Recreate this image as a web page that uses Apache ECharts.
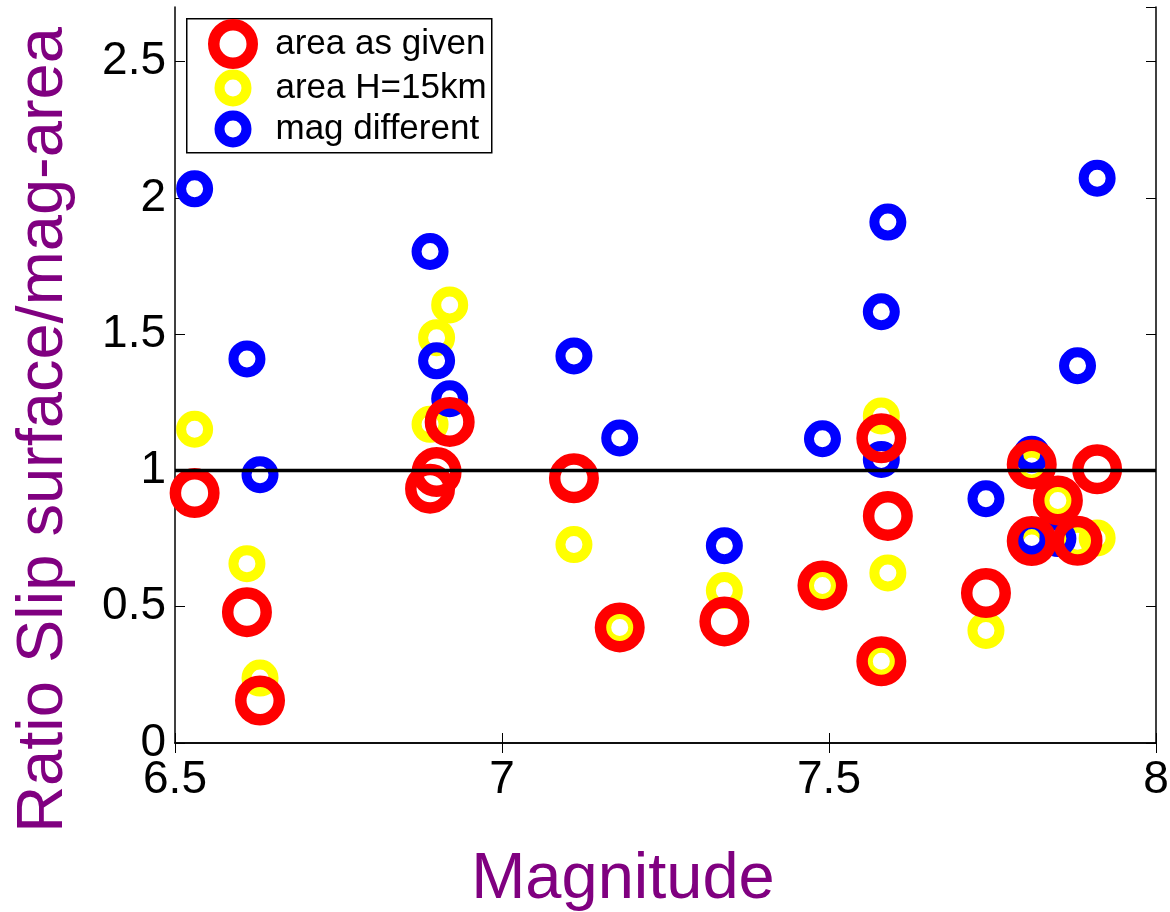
<!DOCTYPE html>
<html>
<head>
<meta charset="utf-8">
<script src="https://cdn.jsdelivr.net/npm/echarts@6/dist/echarts.min.js"></script>
<style>
  html, body { margin: 0; padding: 0; background: #fff; }
  #chart { width: 1170px; height: 912px; }
</style>
</head>
<body>
<div id="chart"></div>
<script>
// Earthquake magnitude of each event
const magnitude = [6.53, 6.61, 6.63, 6.89, 6.90, 6.92, 7.11, 7.18, 7.34, 7.49,
                   7.58, 7.59, 7.58, 7.74, 7.81, 7.91, 7.85, 7.81, 7.88];
// Ratio of surface slip to magnitude-area prediction, three variants
const ratioAreaGiven = [0.917, 0.480, 0.156, 0.933, 0.994, 1.178, 0.971, 0.424, 0.446, 0.578,
                        1.118, 0.833, 0.300, 0.550, 1.022, 1.004, 0.890, 0.741, 0.742];
const ratioAreaH15 = [1.151, 0.658, 0.238, 1.169, 1.487, 1.607, 0.728, 0.424, 0.559, 0.578,
                      1.200, 0.624, 0.300, 0.413, 1.016, 0.752, 0.890, 0.734, 0.740];
const ratioMagDiff = [2.033, 1.409, 0.984, 1.803, 1.402, 1.263, 1.420, 1.119, 0.724, 1.116,
                      1.582, 1.911, 1.040, 0.896, 1.059, 2.072, 0.750, 0.754, 1.384];
const referenceRatio = 1;
const xRange = [6.5, 8];
const yRange = [0, 2.7];

const FONT = '"Liberation Sans", Arial, Helvetica, sans-serif';
const pair = ys => magnitude.map((m, i) => [m, ys[i]]);

const ring = (color, width) => ({ color: 'rgba(0,0,0,0)', borderColor: color, borderWidth: width, opacity: 1 });
const RED = ring('#ff0000', 11.5);
const YELLOW = ring('#ffff00', 10);
const BLUE = ring('#0000ff', 10);

const tickStyle = { show: true, inside: true, length: 10, lineStyle: { color: '#000', width: 1 } };
const lineStyle = { show: true, lineStyle: { color: '#000', width: 1.5 } };

const chart = echarts.init(document.getElementById('chart'), null, { renderer: 'canvas' });
chart.setOption({
  animation: false,
  backgroundColor: '#fff',
  textStyle: { fontFamily: FONT },
  grid: { left: 175, right: 14, top: 7, bottom: 169, containLabel: false, outerBoundsMode: 'none' },
  xAxis: [{
    type: 'value', position: 'bottom', min: xRange[0], max: xRange[1], interval: 0.5,
    axisLine: lineStyle, axisTick: tickStyle, splitLine: { show: false },
    axisLabel: { color: '#000', fontSize: 46, margin: 14, fontFamily: FONT },
    name: 'Magnitude', nameLocation: 'middle', nameGap: 105,
    nameTextStyle: { color: '#800080', fontSize: 65, fontFamily: FONT, padding: [0, 85, 0, 0] }
  }, {
    type: 'value', position: 'top', min: xRange[0], max: xRange[1], interval: 0.5,
    axisLine: lineStyle, axisTick: tickStyle, splitLine: { show: false },
    axisLabel: { show: false }
  }],
  yAxis: [{
    type: 'value', position: 'left', min: yRange[0], max: yRange[1], interval: 0.5,
    axisLine: lineStyle, axisTick: tickStyle, splitLine: { show: false },
    axisLabel: { color: '#000', fontSize: 46, margin: 9, showMaxLabel: false, fontFamily: FONT },
    name: 'Ratio Slip surface/mag-area', nameLocation: 'middle', nameGap: 98,
    nameTextStyle: { color: '#800080', fontSize: 65, fontFamily: FONT, padding: [0, 110, 0, 0] }
  }, {
    type: 'value', position: 'right', min: yRange[0], max: yRange[1], interval: 0.5,
    axisLine: lineStyle, axisTick: tickStyle, splitLine: { show: false },
    axisLabel: { show: false }
  }],
  graphic: [{
    type: 'rect', left: 186, top: 18, z: 3,
    shape: { width: 305, height: 134 },
    style: { fill: '#fff', stroke: '#000', lineWidth: 1.5 }
  }],
  legend: [{
    data: [{ name: 'area as given', itemStyle: RED }],
    orient: 'vertical', left: 208, top: 19, padding: 0, z: 10,
    itemWidth: 38.5, itemHeight: 38.5, selectedMode: false,
    textStyle: { fontSize: 35, lineHeight: 35, color: '#000', fontFamily: FONT, padding: [0, 0, 0, 18] }
  }, {
    data: [{ name: 'area H=15km', itemStyle: YELLOW }, { name: 'mag different', itemStyle: BLUE }],
    orient: 'vertical', left: 214.5, top: 69.5, padding: 0, z: 10, itemGap: 4,
    itemWidth: 27, itemHeight: 27, selectedMode: false,
    textStyle: { fontSize: 35, lineHeight: 35, color: '#000', fontFamily: FONT, padding: [0, 0, 0, 24] }
  }],
  series: [{
    name: 'area H=15km', type: 'scatter', z: 2, symbol: 'circle', symbolSize: 27,
    itemStyle: YELLOW, emphasis: { disabled: true }, data: pair(ratioAreaH15)
  }, {
    name: 'mag different', type: 'scatter', z: 3, symbol: 'circle', symbolSize: 27,
    itemStyle: BLUE, emphasis: { disabled: true }, data: pair(ratioMagDiff)
  }, {
    name: 'area as given', type: 'scatter', z: 4, symbol: 'circle', symbolSize: 38.5,
    itemStyle: RED, emphasis: { disabled: true }, data: pair(ratioAreaGiven)
  }, {
    name: 'ratio = 1', type: 'line', z: 5, symbol: 'none', silent: true,
    lineStyle: { color: '#000', width: 3.5 },
    data: [[xRange[0], referenceRatio], [xRange[1], referenceRatio]]
  }]
});
</script>
</body>
</html>
